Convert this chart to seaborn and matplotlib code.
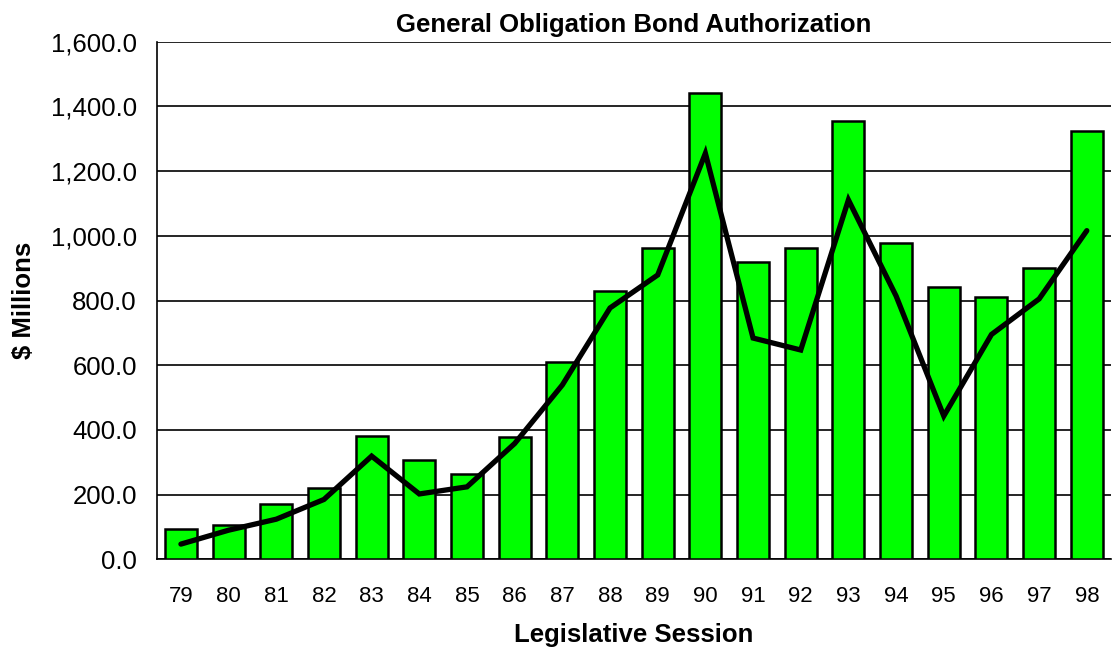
import matplotlib
matplotlib.use('Agg')
import matplotlib.pyplot as plt
import matplotlib.ticker as mticker
import seaborn as sns
import pandas as pd
import numpy as np

# Legislative sessions and bond authorization ($ millions)
sessions = ['79', '80', '81', '82', '83', '84', '85', '86', '87', '88',
            '89', '90', '91', '92', '93', '94', '95', '96', '97', '98']
authorized = [95, 105, 170, 221, 382, 306, 263, 377, 609, 830,
              963, 1443, 920, 963, 1354, 978, 843, 810, 900, 1323]
trend = [47, 90, 124, 185, 319, 202, 224, 358, 539, 777,
         879, 1255, 684, 647, 1111, 814, 443, 695, 805, 1016]

df = pd.DataFrame({'session': sessions, 'authorized': authorized, 'trend': trend})

sns.set_style('white')
plt.rcParams['font.family'] = ['Liberation Sans', 'DejaVu Sans']
plt.rcParams['text.color'] = 'black'
plt.rcParams['axes.labelcolor'] = 'black'
plt.rcParams['xtick.color'] = 'black'
plt.rcParams['ytick.color'] = 'black'

fig = plt.figure(figsize=(11.14, 6.56), dpi=100)
ax = fig.add_axes([0.141, 0.1474, 0.856, 0.789])

sns.barplot(data=df, x='session', y='authorized', color='#00ff00',
            saturation=1, width=0.67, edgecolor='black', linewidth=1.8,
            ax=ax, zorder=3)
ax.plot(np.arange(len(sessions)), df['trend'], color='black', lw=3.8,
        zorder=4, solid_joinstyle='miter')

ax.set_xlim(-0.5, len(sessions) - 0.5)
ax.set_ylim(0, 1600)
ax.yaxis.set_major_locator(mticker.MultipleLocator(200))
ax.yaxis.set_major_formatter(mticker.FuncFormatter(lambda v, p: f'{v:,.1f}'))
ax.grid(axis='y', color='black', lw=1.2, zorder=0)
ax.set_axisbelow(True)

# category boundaries get the tick marks
ax.set_xticks(np.arange(len(sessions)))
ax.set_xticklabels(sessions)
ax.set_xticks(np.arange(len(sessions) + 1) - 0.5, minor=True)
ax.tick_params(axis='x', which='major', length=0, labelsize=16, pad=19)
ax.tick_params(axis='x', which='minor', length=6, width=1, direction='out')
ax.tick_params(axis='y', length=6.5, width=1, direction='out', labelsize=18.5, pad=8)

for s in ['top', 'right']:
    ax.spines[s].set_visible(False)
for s in ['left', 'bottom']:
    ax.spines[s].set_color('black')
    ax.spines[s].set_linewidth(1.2)

ax.set_title('General Obligation Bond Authorization', fontsize=18.5, fontweight='bold', pad=7)
ax.set_xlabel('Legislative Session', fontsize=18.5, fontweight='bold', labelpad=12)
ax.set_ylabel('$ Millions', fontsize=18.5, fontweight='bold', labelpad=11)

fig.savefig('out.png', dpi=100)
